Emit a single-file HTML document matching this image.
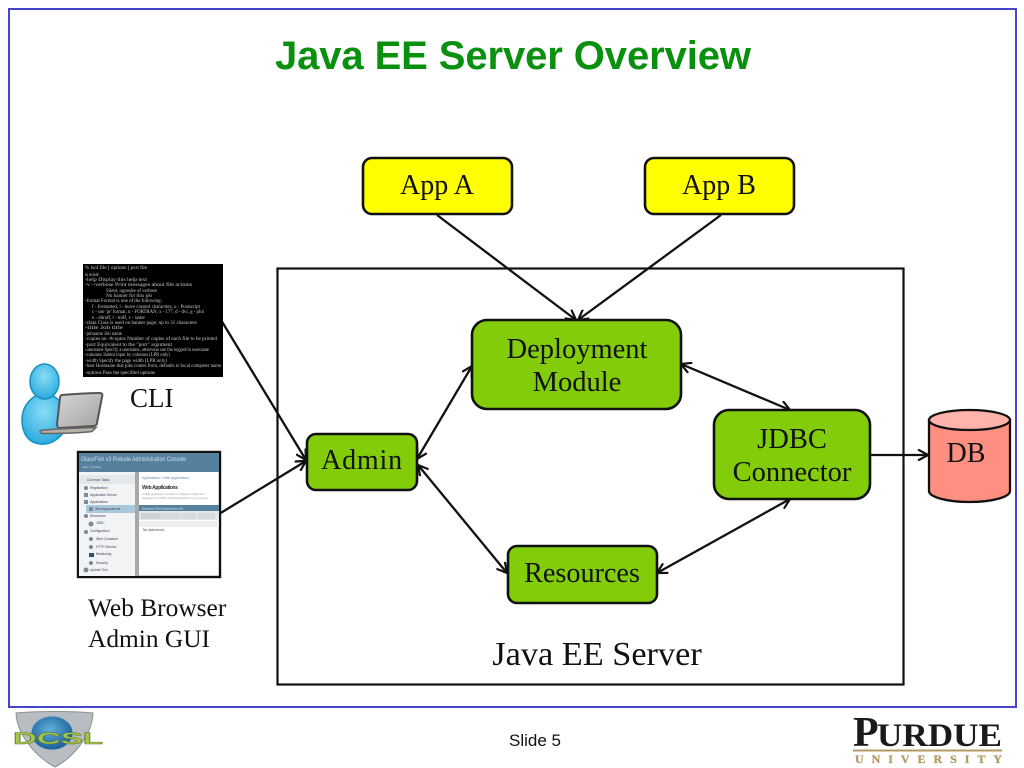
<!DOCTYPE html>
<html><head><meta charset="utf-8"><style>
html,body{margin:0;padding:0;background:#fff;width:1024px;height:768px;overflow:hidden}
svg{display:block}
.s{font-family:"Liberation Serif",serif;fill:#111}
.a{font-family:"Liberation Sans",sans-serif}
.m{font-family:"Liberation Serif",serif;fill:#c8c8c8;font-size:4.8px}
.b{fill:#82cc0a;stroke:#111;stroke-width:2.6}
.l{fill:none;stroke:#111;stroke-width:2.3}
</style></head><body>
<svg width="1024" height="768" viewBox="0 0 1024 768" xmlns="http://www.w3.org/2000/svg">
<defs>
<marker id="h" viewBox="0 0 12 12" refX="11" refY="6" markerWidth="12" markerHeight="12" markerUnits="userSpaceOnUse" orient="auto-start-reverse"><path d="M1 .5L11 6L1 11.5" fill="none" stroke="#111" stroke-width="2.2"/></marker>
<radialGradient id="bl" cx=".5" cy=".35" r=".75"><stop offset="0" stop-color="#8adcf5"/><stop offset="1" stop-color="#1ca4dc"/></radialGradient>
<linearGradient id="sh" x1="0" y1="0" x2="1" y2="1"><stop offset="0" stop-color="#d8d8d8"/><stop offset="1" stop-color="#a2a2a2"/></linearGradient>
<radialGradient id="gl" cx=".45" cy=".4" r=".7"><stop offset="0" stop-color="#5fb0d8"/><stop offset="1" stop-color="#0e4f90"/></radialGradient>
<clipPath id="cg"><rect x="79" y="453" width="140" height="123"/></clipPath>
<clipPath id="ct"><rect x="83" y="264" width="140" height="113"/></clipPath>
</defs>
<rect x="9" y="9" width="1007" height="698" fill="#fff" stroke="#4444cc" stroke-width="2"/>
<text x="275" y="69" class="a" font-size="40" font-weight="bold" fill="#0a900f" textLength="476" lengthAdjust="spacing">Java EE Server Overview</text>

<rect x="277.500" y="268.500" width="626" height="416" fill="#fff" stroke="#111" stroke-width="2.200"/>
<text x="597" y="665" text-anchor="middle" class="s" font-size="34.300">Java EE Server</text>

<!-- connectors -->
<g class="l">
<path d="M437 215L576 320" marker-end="url(#h)"/>
<path d="M721 215L578 320" marker-end="url(#h)"/>
<path d="M221 320L306 460" marker-end="url(#h)"/>
<path d="M219 514L306 461" marker-end="url(#h)"/>
<path d="M417 459L472 366" marker-start="url(#h)" marker-end="url(#h)"/>
<path d="M418 465L507 573" marker-start="url(#h)" marker-end="url(#h)"/>
<path d="M681 364L790 410" marker-start="url(#h)" marker-end="url(#h)"/>
<path d="M657 573L790 499" marker-start="url(#h)" marker-end="url(#h)"/>
<path d="M871 455L928 455" marker-end="url(#h)"/>
</g>

<!-- nodes -->
<rect x="363" y="158" width="149" height="56" rx="9" fill="#ffff00" stroke="#111" stroke-width="2.600"/>
<text x="437" y="194" text-anchor="middle" class="s" font-size="28">App A</text>
<rect x="645" y="158" width="149" height="56" rx="9" fill="#ffff00" stroke="#111" stroke-width="2.600"/>
<text x="719" y="194" text-anchor="middle" class="s" font-size="28">App B</text>

<rect x="472" y="320" width="209" height="89" rx="15" class="b"/>
<text x="577" y="358" text-anchor="middle" class="s" font-size="28.500">Deployment</text>
<text x="577" y="391" text-anchor="middle" class="s" font-size="28.500">Module</text>

<rect x="307" y="434" width="110" height="56" rx="9" class="b"/>
<text x="362" y="469" text-anchor="middle" class="s" font-size="28" letter-spacing=".8">Admin</text>

<rect x="508" y="546" width="149" height="57" rx="9" class="b"/>
<text x="582" y="582" text-anchor="middle" class="s" font-size="28.200">Resources</text>

<rect x="714" y="410" width="156" height="89" rx="15" class="b"/>
<text x="792" y="448" text-anchor="middle" class="s" font-size="28.500">JDBC</text>
<text x="792" y="481" text-anchor="middle" class="s" font-size="28.500">Connector</text>

<!-- DB -->
<path d="M929 420V491C929 497 947 502 969.500 502S1010 497 1010 491V420Z" fill="#ff8f80" stroke="#111" stroke-width="2.300"/>
<ellipse cx="969.500" cy="420" rx="40.500" ry="10" fill="#ffb3ab" stroke="#111" stroke-width="2.300"/>
<text x="966" y="462" text-anchor="middle" class="s" font-size="28">DB</text>

<!-- CLI screenshot -->
<rect x="83" y="264" width="140" height="113" fill="#000"/>
<g class="m" clip-path="url(#ct)">
<text x="85" y="269" textLength="62" lengthAdjust="spacingAndGlyphs">% lsof file [ options ] port file</text>
<text x="85" y="276" textLength="14" lengthAdjust="spacingAndGlyphs">no include/</text>
<text x="85" y="281" textLength="62" lengthAdjust="spacingAndGlyphs">-help    Display this help text</text>
<text x="85" y="286" textLength="107" lengthAdjust="spacingAndGlyphs">-v --verbose    Print messages about file actions</text>
<text x="106" y="292" textLength="51" lengthAdjust="spacingAndGlyphs">Silent, opposite of verbose</text>
<text x="106" y="297" textLength="46" lengthAdjust="spacingAndGlyphs">No banner for this job</text>
<text x="85" y="302" textLength="77" lengthAdjust="spacingAndGlyphs">-format  Format is one of the following:</text>
<text x="92" y="308" textLength="108" lengthAdjust="spacingAndGlyphs">f - formatted, l - leave control characters, o - Postscript</text>
<text x="92" y="313" textLength="112" lengthAdjust="spacingAndGlyphs">c - use 'pr' format, n - FORTRAN, x - 177, d - dvi, g - plot</text>
<text x="92" y="319" textLength="53" lengthAdjust="spacingAndGlyphs">n - ditroff, t - troff, v - raster</text>
<text x="85" y="324" textLength="112" lengthAdjust="spacingAndGlyphs">-class   Class is used on banner page; up to 31 characters</text>
<text x="85" y="329" textLength="38" lengthAdjust="spacingAndGlyphs">-title   Job title</text>
<text x="85" y="335" textLength="37" lengthAdjust="spacingAndGlyphs">-jobname Job name</text>
<text x="85" y="340" textLength="132" lengthAdjust="spacingAndGlyphs">-copies nn -#copies   Number of copies of each file to be printed</text>
<text x="85" y="346" textLength="87" lengthAdjust="spacingAndGlyphs">-port    Equivalent to the "port" argument</text>
<text x="85" y="351" textLength="124" lengthAdjust="spacingAndGlyphs">-username Specify a username; otherwise use the logged-in username</text>
<text x="85" y="356" textLength="85" lengthAdjust="spacingAndGlyphs">-columns Indent input by columns (LPR only)</text>
<text x="85" y="362" textLength="82" lengthAdjust="spacingAndGlyphs">-width   Specify the page width (LPR only)</text>
<text x="85" y="367" textLength="136" lengthAdjust="spacingAndGlyphs">-host    Hostname that jobs comes from, defaults to local computer name</text>
<text x="85" y="374" textLength="70" lengthAdjust="spacingAndGlyphs">-options Pass the specified options</text>
</g>
<text x="130" y="407" class="s" font-size="27">CLI</text>

<!-- user icon -->
<path d="M22 420C22 405 33 394 44 394C55 394 63 402 65 412L64 432C56 442 48 445 40 444C29 443 22 434 22 420Z" fill="url(#bl)" stroke="#1690c4" stroke-width="1.500"/>
<ellipse cx="44.500" cy="381.500" rx="14.500" ry="17.500" fill="url(#bl)" stroke="#1690c4" stroke-width="1.500"/>
<path d="M62 395C75 394 90 393 100 393C102 393 103 395 102 397L97 423C97 425 95 426 93 426L60 428C58 428 57 426 57 424L60 398C60 396 61 395 62 395Z" fill="url(#sh)" stroke="#555" stroke-width="2"/>
<path d="M41 430.500C50 429 80 428 96 427.500L92 431.500C80 433 55 433.500 43 433.500C40 433.500 39 431 41 430.500Z" fill="#b5b0a8" stroke="#666" stroke-width="1.500"/>

<!-- GUI screenshot -->
<rect x="78" y="452" width="142" height="125" fill="#fff" stroke="#111" stroke-width="2.400"/>
<g clip-path="url(#cg)">
<rect x="79" y="453" width="140" height="19" fill="#55819f"/>
<text x="81" y="461" class="a" font-size="6.800" fill="#cfe0ea" textLength="105" lengthAdjust="spacingAndGlyphs">GlassFish v3 Prelude Administration Console</text>
<text x="82" y="468" class="a" font-size="3" fill="#dde">User: Console</text>
<rect x="79" y="472" width="56" height="104" fill="#f1f3f4"/>
<rect x="79" y="475" width="56" height="9" fill="#e4e8ea"/>
<rect x="135" y="472" width="4" height="104" fill="#a5a9ac"/>
<rect x="86" y="505" width="49" height="8" fill="#a9c8dc"/>
<g class="a" font-size="3.300" fill="#445">
<text x="87" y="481">Common Tasks</text>
<text x="90" y="489">Registration</text>
<text x="90" y="496">Application Server</text>
<text x="90" y="503">Applications</text>
<text x="95" y="510">Web Applications</text>
<text x="90" y="517">Resources</text>
<text x="96" y="524">JDBC</text>
<text x="90" y="532">Configuration</text>
<text x="96" y="540">Web Container</text>
<text x="96" y="548">HTTP Service</text>
<text x="96" y="555">Monitoring</text>
<text x="96" y="564">Security</text>
<text x="90" y="571">Update Tool</text>
<text x="142" y="479" fill="#68a">Applications &gt; Web Applications</text>
<text x="142" y="495" fill="#99a" font-size="2.800">A Web application contains a collection of files and</text>
<text x="142" y="499" fill="#99a" font-size="2.800">packaged in a WAR. Web Applications run in a server.</text>
<text x="143" y="525">Name</text><text x="181" y="525">Enabled</text>
<text x="143" y="531">No data found.</text>
</g>
<g fill="#7a8a96">
<circle cx="86" cy="488" r="2"/><rect x="84" y="493" width="4" height="4"/><rect x="84" y="500" width="4" height="4"/><rect x="89" y="507" width="4" height="4"/><circle cx="86" cy="516" r="2"/><circle cx="91" cy="524" r="2.500"/><circle cx="86" cy="532" r="2"/><circle cx="91" cy="539" r="2"/><circle cx="91" cy="547" r="2"/><rect x="89" y="553" width="5" height="4" fill="#2f4f6a"/><circle cx="91" cy="563" r="2"/><circle cx="86" cy="570" r="2.500"/>
</g>
<text x="142" y="489" class="a" font-size="5" font-weight="bold" fill="#333" textLength="36">Web Applications</text>
<rect x="139" y="505" width="80" height="6" fill="#55819f"/>
<text x="142" y="509.500" class="a" font-size="3" fill="#e8eef2">Deployed Web Applications (0)</text>
<rect x="139" y="511" width="80" height="9" fill="#e4e7e9"/>
<rect x="141" y="513" width="20" height="6" fill="#ccd2d6"/><rect x="162" y="513" width="18" height="6" fill="#d6dadd"/><rect x="181" y="513" width="15" height="6" fill="#d6dadd"/><rect x="198" y="513" width="17" height="6" fill="#d6dadd"/>
<rect x="139" y="521" width="80" height="6" fill="#eceeef"/>
</g>
<text x="88" y="616" class="s" font-size="25.400">Web Browser</text>
<text x="88" y="647" class="s" font-size="25.400">Admin GUI</text>

<!-- footer -->
<text x="535" y="746" text-anchor="middle" class="a" font-size="17" fill="#111">Slide 5</text>

<!-- DCSL logo -->
<path d="M16 713C36 711 74 711 93 713C92 735 74 757 55 767C36 757 17 735 16 713Z" fill="#b8bdc1" stroke="#8a9094"/>
<ellipse cx="52" cy="733" rx="21" ry="17" fill="url(#gl)" stroke="#a5b9c4"/>
<text x="13" y="744" class="a" font-size="17" font-weight="bold" fill="#a6c84a" stroke="#5f7528" stroke-width=".5" textLength="90" lengthAdjust="spacingAndGlyphs">DCSL</text>

<!-- Purdue -->
<text x="853" y="746" class="s" font-size="42" font-weight="bold" style="fill:#1a1a1a">P</text>
<text x="877" y="746" class="s" font-size="33" font-weight="bold" style="fill:#1a1a1a" textLength="125" lengthAdjust="spacingAndGlyphs">URDUE</text>
<rect x="853" y="749.500" width="149" height="2" fill="#b39a62"/>
<text x="855" y="763" class="s" font-size="12" font-weight="bold" style="fill:#b39a62;stroke:#b39a62;stroke-width:.3" textLength="147">UNIVERSITY</text>
</svg>
</body></html>
